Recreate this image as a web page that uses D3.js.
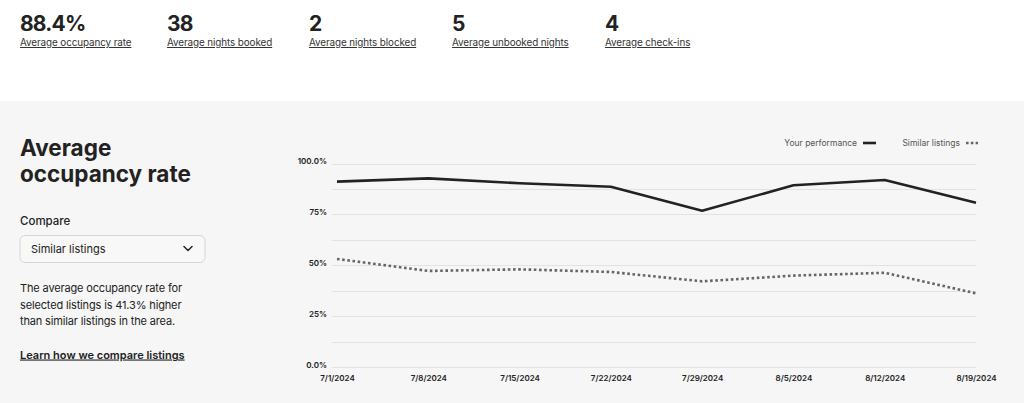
<!DOCTYPE html>
<html>
<head>
<meta charset="utf-8">
<script src="https://cdn.jsdelivr.net/npm/d3@7"></script>
<style>
  html, body { margin: 0; padding: 0; background: #fff; }
  svg { display: block; font-family: Inter, "Noto Sans", sans-serif; }
</style>
</head>
<body>
<script>
// chart data
var dates = ["7/1/2024", "7/8/2024", "7/15/2024", "7/22/2024", "7/29/2024", "8/5/2024", "8/12/2024", "8/19/2024"];
var yourPerformance = [91.1, 92.7, 90.3, 88.6, 76.8, 89.3, 91.9, 80.7];
var similarListings = [53.1, 47.2, 48.0, 46.7, 42.1, 44.9, 46.3, 36.2];
var gridValues = [0, 12.5, 25, 37.5, 50, 62.5, 75, 87.5, 100];
var yTickValues = [0, 25, 50, 75, 100];
var yTickLabels = ["0.0%", "25%", "50%", "75%", "100.0%"];

// summary numbers on top
var kpiValues = ["88.4%", "38", "2", "5", "4"];
var kpiLabels = ["Average occupancy rate", "Average nights booked", "Average nights blocked", "Average unbooked nights", "Average check-ins"];
var kpiX = [20, 167, 309, 452, 605];

var paragraph = ["The average occupancy rate for", "selected listings is 41.3% higher", "than similar listings in the area."];

var svgWidth = 1024, svgHeight = 403;
var svg = d3.select("body").append("svg").attr("width", svgWidth).attr("height", svgHeight);

// backgrounds
svg.append("rect").attr("width", svgWidth).attr("height", svgHeight).attr("fill", "#fff");
svg.append("rect").attr("y", 101).attr("width", svgWidth).attr("height", svgHeight - 101).attr("fill", "#f6f6f6");

// top KPIs
var kpi = svg.append("g").selectAll("g").data(kpiValues).enter().append("g")
    .attr("transform", function(d, i) { return "translate(" + kpiX[i] + ",0)"; });
kpi.append("text").attr("y", 31).attr("font-size", 21).attr("font-weight", 700).attr("fill", "#222")
    .attr("letter-spacing", -0.8)
    .text(function(d) { return d; });
kpi.append("text").attr("y", 46).attr("font-size", 9.9).attr("fill", "#333")
    .attr("letter-spacing", -0.1)
    .attr("text-decoration", "underline")
    .text(function(d, i) { return kpiLabels[i]; });

// left panel
var left = svg.append("g");
left.append("text").attr("x", 20).attr("y", 156).attr("font-size", 22.5).attr("font-weight", 700).attr("fill", "#222").text("Average");
left.append("text").attr("x", 20).attr("y", 182).attr("font-size", 22.5).attr("font-weight", 700).attr("fill", "#222").text("occupancy rate");
left.append("text").attr("x", 20).attr("y", 225).attr("font-size", 11.5).attr("font-weight", 500).attr("fill", "#222").text("Compare");
left.append("rect").attr("x", 20).attr("y", 235.5).attr("width", 185).attr("height", 27).attr("rx", 5)
    .attr("fill", "#f8f8f8").attr("stroke", "#d6d6d6");
left.append("text").attr("x", 31).attr("y", 253).attr("font-size", 11).attr("fill", "#222").text("Similar listings");
left.append("path").attr("d", "M184,246.5 L188,250.5 L192,246.5").attr("fill", "none")
    .attr("stroke", "#222").attr("stroke-width", 1.5).attr("stroke-linecap", "round").attr("stroke-linejoin", "round");
left.selectAll(".para").data(paragraph).enter().append("text")
    .attr("x", 20).attr("y", function(d, i) { return 292 + i * 16.5; })
    .attr("font-size", 11).attr("letter-spacing", -0.15).attr("fill", "#222").text(function(d) { return d; });
left.append("text").attr("x", 20).attr("y", 358.5).attr("font-size", 11).attr("font-weight", 600)
    .attr("fill", "#222").attr("text-decoration", "underline").text("Learn how we compare listings");

// chart scales
var x = d3.scalePoint().domain(dates).range([337, 976]);
var y = d3.scaleLinear().domain([0, 100]).range([367, 163.5]);

var chart = svg.append("g");

// gridlines
chart.selectAll(".grid").data(gridValues).enter().append("line")
    .attr("x1", 332).attr("x2", 976)
    .attr("y1", function(d) { return Math.round(y(d)) + 0.5; })
    .attr("y2", function(d) { return Math.round(y(d)) + 0.5; })
    .attr("stroke", "#e2e2e2").attr("stroke-width", 1);

// y labels
chart.selectAll(".ylab").data(yTickValues).enter().append("text")
    .attr("x", 327).attr("y", function(d) { return y(d) + 0.5; })
    .attr("text-anchor", "end").attr("font-size", 8).attr("font-weight", 600).attr("fill", "#222")
    .text(function(d, i) { return yTickLabels[i]; });

// x axis labels
var xAxis = d3.axisBottom(x).tickSize(0).tickPadding(0);
var xg = chart.append("g").attr("transform", "translate(0,375)").call(xAxis);
xg.select(".domain").remove();
xg.selectAll("text").attr("font-size", 8).attr("font-weight", 600).attr("fill", "#222")
    .attr("font-family", "Inter, 'Noto Sans', sans-serif");

var line = d3.line().x(function(d, i) { return x(dates[i]); }).y(function(d) { return y(d); });

chart.append("path").datum(similarListings).attr("d", line).attr("fill", "none")
    .attr("stroke", "#666").attr("stroke-width", 2.6).attr("stroke-dasharray", "2.6,2.6");
chart.append("path").datum(yourPerformance).attr("d", line).attr("fill", "none")
    .attr("stroke", "#222").attr("stroke-width", 2.6).attr("stroke-linejoin", "round");

// legend
var legend = svg.append("g");
legend.append("text").attr("x", 857).attr("y", 146).attr("text-anchor", "end").attr("font-size", 8.5)
    .attr("fill", "#555").text("Your performance");
legend.append("line").attr("x1", 863).attr("x2", 876).attr("y1", 143).attr("y2", 143)
    .attr("stroke", "#222").attr("stroke-width", 2.6);
legend.append("text").attr("x", 960).attr("y", 146).attr("text-anchor", "end").attr("font-size", 8.5)
    .attr("fill", "#555").text("Similar listings");
legend.append("line").attr("x1", 966).attr("x2", 978).attr("y1", 143).attr("y2", 143)
    .attr("stroke", "#666").attr("stroke-width", 2.6).attr("stroke-dasharray", "2.6,2.2");
</script>
</body>
</html>
